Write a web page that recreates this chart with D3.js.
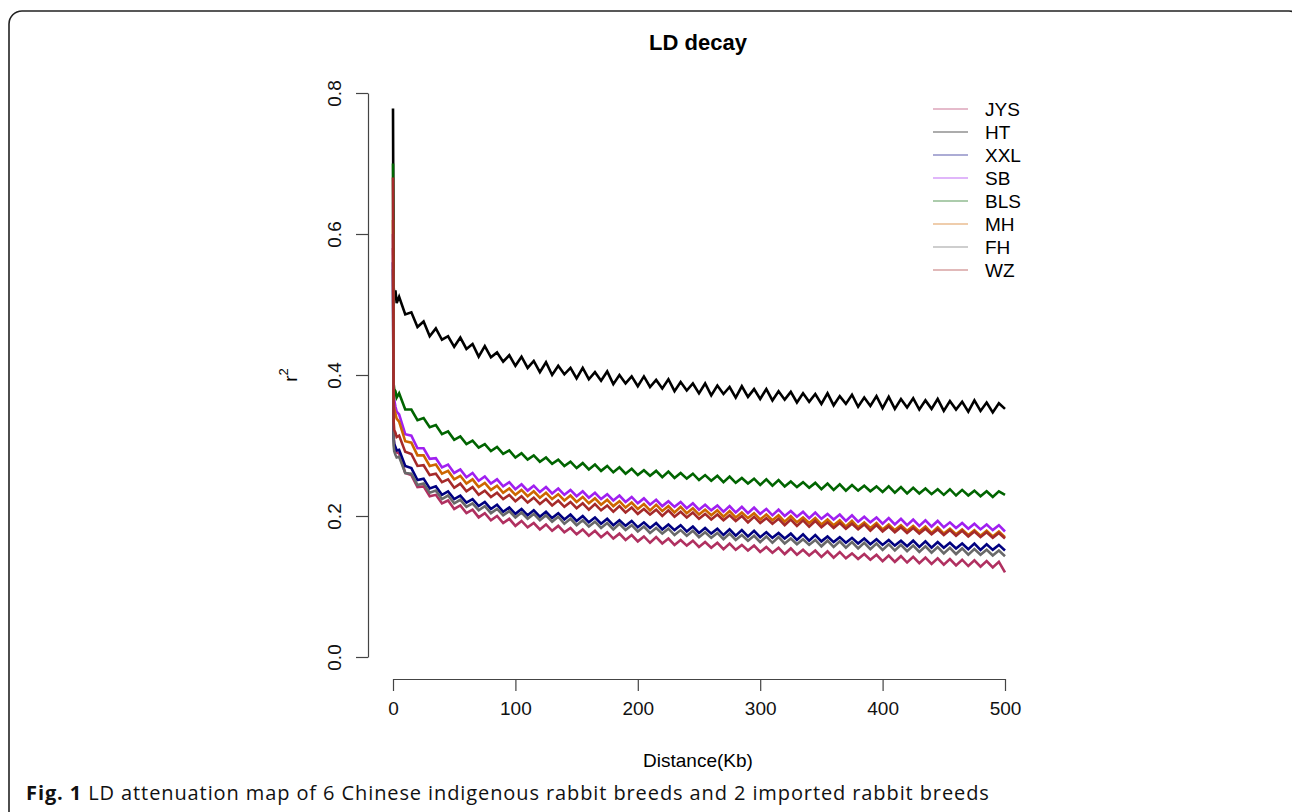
<!DOCTYPE html>
<html lang="en">
<head>
    <meta charset="UTF-8">
    <title>LD decay</title>
    <script src="https://d3js.org/d3.v7.min.js"></script>
    <style>
        body { margin: 0; background: #fff; }
        text { font-family: "Liberation Sans", Arial, sans-serif; }
    </style>
</head>
<body>
    <svg width="1292" height="812"></svg>
    <script>
        // distance in Kb
        const distance = [0, 0.5, 1, 2, 3,
            5, 10, 15, 20, 25, 30, 35, 40, 45, 50,
            55, 60, 65, 70, 75, 80, 85, 90, 95, 100,
            105, 110, 115, 120, 125, 130, 135, 140, 145, 150,
            155, 160, 165, 170, 175, 180, 185, 190, 195, 200,
            205, 210, 215, 220, 225, 230, 235, 240, 245, 250,
            255, 260, 265, 270, 275, 280, 285, 290, 295, 300,
            305, 310, 315, 320, 325, 330, 335, 340, 345, 350,
            355, 360, 365, 370, 375, 380, 385, 390, 395, 400,
            405, 410, 415, 420, 425, 430, 435, 440, 445, 450,
            455, 460, 465, 470, 475, 480, 485, 490, 495, 500];

        const breeds = ['JYS', 'HT', 'XXL', 'SB', 'BLS', 'MH', 'FH', 'WZ'];
        const colors = ['#B03060', '#000000', '#000080', '#A020F0', '#006400', '#CD6600', '#696969', '#A52A2A'];

        // r^2 values, same order as distance
        const JYS = [.580, .315, .300, .295, .290,
            .289, .261, .258, .241, .242, .228, .230, .218, .222, .210,
            .215, .204, .209, .198, .204, .194, .200, .190, .196, .186,
            .193, .184, .190, .181, .188, .179, .186, .177, .183, .174,
            .181, .172, .179, .170, .177, .168, .175, .166, .173, .164,
            .171, .162, .170, .161, .168, .159, .166, .158, .165, .156,
            .163, .155, .162, .153, .161, .152, .159, .151, .158, .149,
            .156, .148, .155, .146, .154, .145, .152, .144, .151, .142,
            .150, .141, .149, .140, .147, .139, .146, .138, .145, .136,
            .144, .135, .143, .134, .142, .133, .141, .132, .140, .131,
            .139, .130, .138, .129, .137, .128, .136, .127, .135, .120];
        const HT = [.778, .525, .515, .520, .502,
            .511, .486, .489, .468, .476, .455, .466, .450, .455, .440,
            .453, .437, .444, .426, .441, .425, .432, .419, .428, .413,
            .426, .410, .420, .404, .418, .400, .413, .401, .410, .395,
            .410, .394, .404, .392, .405, .387, .400, .388, .398, .384,
            .398, .383, .393, .381, .394, .377, .390, .378, .388, .374,
            .388, .371, .385, .373, .383, .368, .384, .369, .380, .366,
            .380, .364, .377, .365, .376, .361, .374, .362, .373, .359,
            .374, .357, .370, .359, .372, .355, .368, .356, .370, .353,
            .369, .352, .366, .354, .367, .351, .364, .352, .366, .349,
            .363, .351, .362, .348, .364, .349, .361, .347, .360, .352];
        const XXL = [.560, .310, .302, .298, .293,
            .294, .271, .268, .251, .253, .239, .242, .230, .235, .224,
            .229, .219, .224, .214, .220, .210, .216, .206, .212, .203,
            .210, .201, .208, .199, .206, .197, .204, .195, .202, .193,
            .200, .191, .198, .189, .196, .187, .194, .186, .193, .184,
            .191, .183, .190, .181, .188, .180, .187, .178, .185, .176,
            .183, .175, .182, .173, .181, .172, .180, .171, .179, .170,
            .177, .169, .176, .168, .175, .166, .174, .165, .173, .164,
            .171, .163, .170, .162, .169, .161, .168, .160, .167, .159,
            .166, .158, .165, .157, .165, .156, .164, .155, .163, .155,
            .162, .154, .161, .153, .161, .152, .160, .152, .159, .151];
        const SB = [.600, .372, .365, .355, .348,
            .344, .316, .314, .296, .296, .281, .282, .269, .273, .261,
            .266, .255, .261, .250, .256, .246, .252, .242, .248, .238,
            .245, .236, .243, .234, .241, .232, .239, .230, .237, .228,
            .235, .226, .233, .224, .231, .222, .229, .220, .227, .218,
            .225, .216, .223, .214, .221, .213, .220, .211, .218, .209,
            .216, .208, .215, .206, .214, .205, .213, .204, .212, .203,
            .210, .201, .209, .200, .207, .199, .206, .197, .205, .196,
            .203, .195, .202, .193, .201, .192, .199, .191, .198, .189,
            .197, .188, .196, .187, .195, .186, .194, .185, .193, .184,
            .191, .183, .190, .182, .189, .181, .188, .180, .187, .178];
        const BLS = [.700, .388, .380, .377, .368,
            .374, .351, .351, .336, .339, .326, .329, .316, .320, .308,
            .313, .302, .307, .297, .302, .292, .298, .288, .293, .283,
            .289, .280, .286, .277, .283, .274, .280, .271, .277, .268,
            .275, .266, .273, .264, .271, .262, .269, .260, .267, .258,
            .265, .257, .264, .255, .263, .254, .261, .253, .260, .251,
            .258, .250, .257, .248, .256, .247, .254, .246, .253, .244,
            .252, .243, .251, .242, .249, .241, .248, .240, .247, .238,
            .246, .237, .245, .236, .244, .236, .243, .235, .242, .234,
            .242, .233, .241, .232, .240, .232, .239, .231, .238, .230,
            .238, .229, .237, .229, .236, .228, .235, .227, .235, .230];
        const MH = [.620, .362, .352, .345, .338,
            .334, .306, .304, .286, .286, .271, .273, .260, .264, .252,
            .257, .246, .252, .241, .247, .237, .243, .233, .239, .230,
            .237, .228, .235, .226, .233, .224, .231, .222, .229, .220,
            .227, .218, .225, .216, .223, .214, .221, .212, .219, .210,
            .217, .208, .216, .207, .214, .205, .213, .204, .211, .202,
            .209, .201, .208, .199, .207, .198, .205, .197, .204, .195,
            .202, .194, .201, .192, .200, .191, .198, .190, .197, .188,
            .195, .187, .194, .185, .193, .184, .191, .183, .190, .181,
            .188, .180, .187, .179, .186, .178, .185, .176, .184, .175,
            .182, .174, .181, .173, .180, .172, .179, .171, .178, .170];
        const FH = [.550, .300, .292, .287, .283,
            .284, .261, .260, .244, .246, .233, .236, .224, .229, .218,
            .223, .213, .218, .208, .214, .204, .210, .201, .207, .198,
            .205, .196, .203, .194, .201, .192, .199, .189, .196, .187,
            .194, .185, .192, .183, .190, .181, .189, .180, .187, .178,
            .185, .176, .183, .175, .182, .173, .180, .172, .179, .170,
            .177, .169, .176, .167, .175, .166, .173, .165, .172, .163,
            .171, .162, .170, .161, .168, .160, .167, .159, .166, .157,
            .165, .156, .164, .155, .163, .154, .162, .153, .161, .152,
            .160, .151, .159, .150, .158, .149, .157, .148, .156, .147,
            .155, .146, .154, .145, .153, .145, .152, .144, .151, .143];
        const WZ = [.680, .335, .322, .318, .312,
            .314, .291, .288, .271, .272, .258, .260, .248, .252, .240,
            .246, .235, .241, .230, .236, .227, .233, .224, .230, .221,
            .228, .219, .226, .217, .224, .215, .222, .213, .220, .211,
            .218, .209, .217, .208, .215, .206, .214, .205, .212, .203,
            .210, .202, .209, .200, .208, .199, .206, .198, .205, .196,
            .203, .195, .202, .194, .201, .193, .200, .191, .199, .190,
            .197, .189, .196, .187, .195, .186, .194, .185, .193, .184,
            .191, .183, .190, .182, .189, .181, .188, .179, .187, .178,
            .185, .177, .184, .176, .183, .175, .182, .174, .181, .173,
            .180, .172, .179, .171, .178, .170, .177, .169, .176, .168];

        const seriesValues = [JYS, HT, XXL, SB, BLS, MH, FH, WZ];
        const xTicks = [0, 100, 200, 300, 400, 500];
        const yTicks = [0.0, 0.2, 0.4, 0.6, 0.8];

        const svg = d3.select('svg');
        const FS = 19;

        // figure frame with rounded top corners
        svg.append('rect')
            .attr('x', 9).attr('y', 11)
            .attr('width', 1293).attr('height', 840)
            .attr('rx', 13)
            .attr('fill', 'none')
            .attr('stroke', '#222')
            .attr('stroke-width', 1.6);

        const xScale = d3.scaleLinear().domain([0, 500]).range([393, 1005]);
        const yScale = d3.scaleLinear().domain([0, 0.8]).range([657, 93]);

        const line = d3.line()
            .x((d, i) => xScale(distance[i]))
            .y(d => yScale(d));

        svg.append('g').selectAll('path')
            .data(seriesValues)
            .enter()
            .append('path')
            .attr('d', d => line(d))
            .attr('fill', 'none')
            .attr('stroke', (d, i) => colors[i])
            .attr('stroke-width', 2.6);

        // axes
        const xAxis = d3.axisBottom(xScale).tickValues(xTicks).tickSize(12).tickSizeOuter(0).tickPadding(11);
        const yAxis = d3.axisLeft(yScale).tickValues(yTicks).tickSize(12).tickSizeOuter(0)
                        .tickFormat(d3.format('.1f'));

        const gx = svg.append('g').attr('transform', 'translate(0, 679)').call(xAxis);
        gx.selectAll('text').attr('font-size', FS).attr('fill', '#111')
            .attr('font-family', '"Liberation Sans", Arial, sans-serif');

        const gy = svg.append('g').attr('transform', 'translate(368, 0)').call(yAxis);
        gy.selectAll('text')
            .attr('font-size', FS).attr('fill', '#111')
            .attr('font-family', '"Liberation Sans", Arial, sans-serif')
            .attr('text-anchor', 'middle')
            .attr('dy', null)
            .attr('x', null)
            .attr('transform', 'translate(-34, 0) rotate(-90)')
            .attr('dominant-baseline', 'central');

        [gx, gy].forEach(g => {
            g.selectAll('path, line').attr('stroke', '#444').attr('stroke-width', 1.2);
        });

        // title + axis labels
        svg.append('text')
            .attr('x', 698).attr('y', 50)
            .attr('text-anchor', 'middle')
            .attr('font-size', 22).attr('font-weight', 'bold')
            .text('LD decay');

        svg.append('text')
            .attr('x', 698).attr('y', 767)
            .attr('text-anchor', 'middle')
            .attr('font-size', FS)
            .text('Distance(Kb)');

        const yLab = svg.append('text')
            .attr('transform', 'translate(297, 375) rotate(-90)')
            .attr('text-anchor', 'middle')
            .attr('font-size', FS);
        yLab.append('tspan').text('r');
        yLab.append('tspan').attr('font-size', 13).attr('dy', -9).text('2');

        // legend
        const legend = svg.append('g').selectAll('g')
            .data(breeds)
            .enter()
            .append('g')
            .attr('transform', (d, i) => `translate(0, ${109 + i * 23})`);
        legend.append('line')
            .attr('x1', 933).attr('x2', 968)
            .attr('stroke', (d, i) => colors[i])
            .attr('stroke-width', 1.2)
            .attr('stroke-opacity', 0.65);
        legend.append('text')
            .attr('x', 985)
            .attr('dy', '0.36em')
            .attr('font-size', FS)
            .text(d => d);

        // caption
        const cap = svg.append('text')
            .attr('x', 26).attr('y', 800)
            .attr('font-size', 20)
            .attr('letter-spacing', 0.9)
            .style('font-family', '"Open Sans", sans-serif')
            .attr('fill', '#111');
        cap.append('tspan').attr('font-weight', 'bold').text('Fig. 1');
        cap.append('tspan').text(' LD attenuation map of 6 Chinese indigenous rabbit breeds and 2 imported rabbit breeds');
    </script>
</body>
</html>
